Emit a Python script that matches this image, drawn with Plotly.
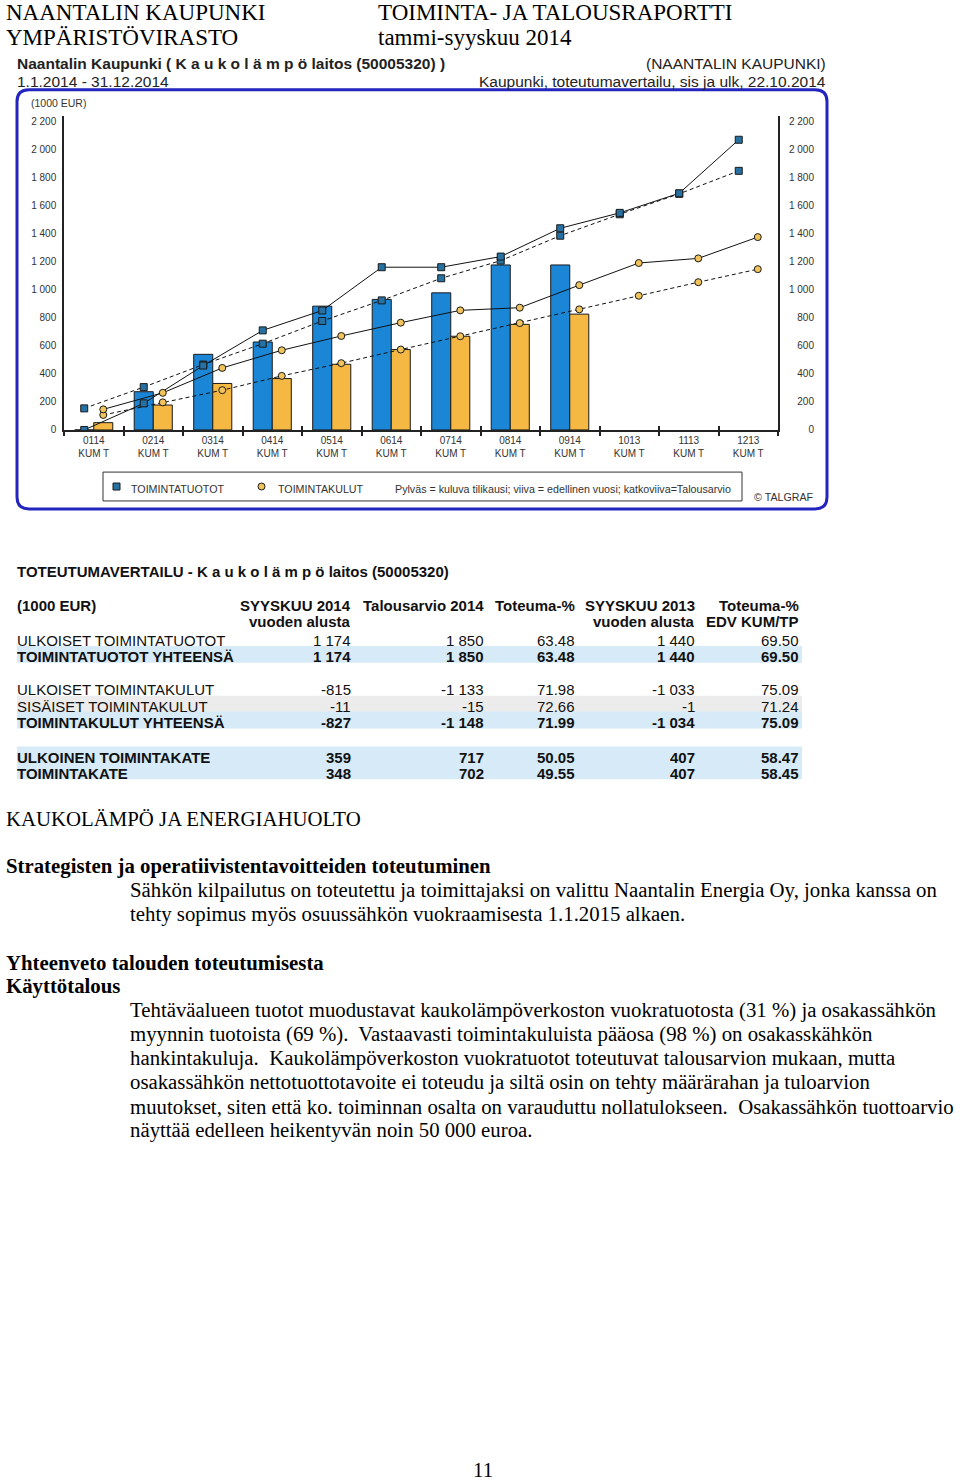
import plotly.graph_objects as go

W, H = 960, 1484
def px(x): return x / W
def py(y): return 1 - y / H

# ---------------- data ----------------
categories = ["0114", "0214", "0314", "0414", "0514", "0614",
              "0714", "0814", "0914", "1013", "1113", "1213"]
tick_labels = [c + "<br>KUM T" for c in categories]

# bars: current year (cumulative, 1000 EUR)
tuotot_2014 = [0, 273, 540, 628, 884, 932, 979, 1178, 1178]
kulut_2014 = [52, 178, 332, 367, 469, 574, 669, 754, 827]
# solid line: previous year
tuotot_2013 = [0, 190, 460, 711, 853, 1162, 1162, 1238, 1440, 1550, 1690, 2072]
kulut_2013 = [147, 265, 443, 569, 671, 766, 854, 873, 1034, 1192, 1225, 1377]
# dashed line: budget
tuotot_ta = [154, 306, 467, 616, 778, 925, 1083, 1209, 1387, 1540, 1686, 1850]
kulut_ta = [107, 197, 284, 386, 477, 574, 669, 763, 861, 958, 1055, 1148]

y_ticks = [0, 200, 400, 600, 800, 1000, 1200, 1400, 1600, 1800, 2000, 2200]

# table
row_labels = ["ULKOISET TOIMINTATUOTOT", "TOIMINTATUOTOT YHTEENSÄ",
              "ULKOISET TOIMINTAKULUT", "SISÄISET TOIMINTAKULUT",
              "TOIMINTAKULUT YHTEENSÄ", "ULKOINEN TOIMINTAKATE", "TOIMINTAKATE"]
syyskuu_2014 = [1174, 1174, -815, -11, -827, 359, 348]
talousarvio_2014 = [1850, 1850, -1133, -15, -1148, 717, 702]
toteuma_pct = [63.48, 63.48, 71.98, 72.66, 71.99, 50.05, 49.55]
syyskuu_2013 = [1440, 1440, -1033, -1, -1034, 407, 407]
toteuma_edv_pct = [69.50, 69.50, 75.09, 71.24, 75.09, 58.47, 58.45]
col_headers = [("SYYSKUU 2014", "vuoden alusta"), ("Talousarvio 2014", ""),
               ("Toteuma-%", ""), ("SYYSKUU 2013", "vuoden alusta"),
               ("Toteuma-%", "EDV KUM/TP")]

# ---------------- styles ----------------
BLUE_BAR = "rgb(28,134,214)"
ORANGE_BAR = "rgb(245,184,66)"
BLUE_MK = "rgb(38,112,162)"
ORANGE_MK = "rgb(240,196,90)"
EDGE = "#1a1a1a"
SANS = "Liberation Sans, Arial, sans-serif"
SERIF = "Liberation Serif, Times New Roman, serif"
CH = "#333333"
TFS = 15      # table font size
BFS = 20.8    # body font size

def fmt_int(v):
    return f"{v:,}".replace(",", " ")

fig = go.Figure()

fig.add_trace(go.Bar(x=categories[:len(tuotot_2014)], y=tuotot_2014, offsetgroup="t",
                     marker=dict(color=BLUE_BAR, line=dict(color=EDGE, width=1)),
                     name="TOIMINTATUOTOT", showlegend=False))
fig.add_trace(go.Bar(x=categories[:len(kulut_2014)], y=kulut_2014, offsetgroup="k",
                     marker=dict(color=ORANGE_BAR, line=dict(color=EDGE, width=1)),
                     name="TOIMINTAKULUT", showlegend=False))

def line_trace(y, group, dash, symbol, color):
    return go.Scatter(x=categories, y=y, mode="lines+markers", offsetgroup=group,
                      line=dict(color="#111111", width=1, dash=dash),
                      marker=dict(symbol=symbol, size=7, color=color,
                                  line=dict(color=EDGE, width=1)),
                      showlegend=False)

fig.add_trace(line_trace(tuotot_ta, "t", "4px,3px", "square", BLUE_MK))
fig.add_trace(line_trace(kulut_ta, "k", "4px,3px", "circle", ORANGE_MK))
fig.add_trace(line_trace(tuotot_2013, "t", "solid", "square", BLUE_MK))
fig.add_trace(line_trace(kulut_2013, "k", "solid", "circle", ORANGE_MK))

# helper (invisible) traces so the extra axes render
fig.add_trace(go.Scatter(x=categories, y=[None] * len(categories), xaxis="x2",
                         showlegend=False, hoverinfo="skip"))
fig.add_trace(go.Scatter(x=categories, y=[None] * len(categories), yaxis="y2",
                         showlegend=False, hoverinfo="skip"))

xdom = [px(64), px(778)]
ydom = [py(431.7), py(116.7)]
yticktext = [fmt_int(v) for v in y_ticks]

fig.update_layout(
    width=W, height=H, margin=dict(l=0, r=0, t=0, b=0),
    paper_bgcolor="white", plot_bgcolor="white",
    barmode="group", bargap=0.36, scattermode="group", scattergap=0.36,
    showlegend=False,
    xaxis=dict(domain=xdom, anchor="y", type="category",
               categoryorder="array", categoryarray=categories,
               range=[-0.5, len(categories) - 0.5],
               tickmode="array", tickvals=categories, ticktext=tick_labels,
               tickson="boundaries", ticks="outside", ticklen=4, tickwidth=1.5,
               tickcolor="#222", showline=True, linecolor="#222", linewidth=1.5,
               showgrid=False, zeroline=False,
               tickfont=dict(family=SANS, size=10, color=CH)),
    xaxis2=dict(domain=xdom, anchor="y", overlaying="x", type="category",
                categoryorder="array", categoryarray=categories,
                range=[-0.5, len(categories) - 0.5],
                tickmode="array", tickvals=categories, showticklabels=False,
                tickson="boundaries", ticks="inside", ticklen=4, tickwidth=1.5,
                tickcolor="#222", showline=False, showgrid=False, zeroline=False),
    yaxis=dict(domain=ydom, anchor="x", range=[0, 2240],
               tickmode="array", tickvals=y_ticks, ticktext=yticktext,
               ticks="", showline=True, mirror=True, linecolor="#222", linewidth=1.5,
               showgrid=False, zeroline=False, ticklabelstandoff=4,
               tickfont=dict(family=SANS, size=10, color=CH)),
    yaxis2=dict(domain=ydom, overlaying="y", anchor="free", position=px(814),
                side="left", range=[0, 2240],
                tickmode="array", tickvals=y_ticks, ticktext=yticktext,
                ticks="", showline=False, showgrid=False, zeroline=False,
                tickfont=dict(family=SANS, size=10, color=CH)),
)

shapes = []
annotations = []

def text(x, y, s, size, family=SANS, anchor="left", color="black", bold=False):
    if bold:
        s = "<b>" + s + "</b>"
    annotations.append(dict(x=px(x), y=py(y), xref="paper", yref="paper",
                            text=s, showarrow=False, xanchor=anchor, yanchor="middle",
                            font=dict(family=family, size=size, color=color)))

def rect(x0, y0, x1, y1, fill=None, line=None, lw=1, kind="rect"):
    shapes.append(dict(type=kind, xref="paper", yref="paper",
                       x0=px(x0), x1=px(x1), y0=py(y1), y1=py(y0),
                       fillcolor=fill if fill else "rgba(0,0,0,0)",
                       line=dict(color=line if line else "rgba(0,0,0,0)", width=lw),
                       layer="above"))

# page header
text(4, 13, "NAANTALIN KAUPUNKI", 23, SERIF)
text(4, 38, "YMPÄRISTÖVIRASTO", 23, SERIF)
text(376, 13, "TOIMINTA- JA TALOUSRAPORTTI", 23, SERIF)
text(376, 38, "tammi-syyskuu 2014", 23, SERIF)

# chart header
text(15, 64, "Naantalin Kaupunki ( K a u k o l ä m p ö laitos (50005320) )", 15.5, bold=True, color="#222")
text(15, 82, "1.1.2014 - 31.12.2014", 15.5, color="#222")
text(828, 64, "(NAANTALIN KAUPUNKI)", 15.5, anchor="right", color="#222")
text(828, 82, "Kaupunki, toteutumavertailu, sis ja ulk, 22.10.2014", 15.5, anchor="right", color="#222")

# rounded frame
def rpath(x0, y0, x1, y1, r):
    P = lambda x, y: f"{px(x)},{py(y)}"
    return (f"M {P(x0 + r, y0)} L {P(x1 - r, y0)} Q {P(x1, y0)} {P(x1, y0 + r)} "
            f"L {P(x1, y1 - r)} Q {P(x1, y1)} {P(x1 - r, y1)} "
            f"L {P(x0 + r, y1)} Q {P(x0, y1)} {P(x0, y1 - r)} "
            f"L {P(x0, y0 + r)} Q {P(x0, y0)} {P(x0 + r, y0)} Z")
shapes.append(dict(type="path", xref="paper", yref="paper",
                   path=rpath(17, 90, 827, 511, 12),
                   line=dict(color="rgb(36,36,190)", width=3), layer="above"))

text(29, 103, "(1000 EUR)", 10.5, color=CH)

# legend box
rect(103, 474, 742, 503, line="#333", lw=1)
rect(113, 485, 120, 492, fill=BLUE_MK, line=EDGE, lw=1)
rect(258, 485, 265, 492, fill=ORANGE_MK, line=EDGE, lw=1, kind="circle")
text(129, 490.5, "TOIMINTATUOTOT", 10.7, color=CH)
text(276, 490.5, "TOIMINTAKULUT", 10.7, color=CH)
text(393, 490.5, "Pylväs = kuluva tilikausi; viiva = edellinen vuosi; katkoviiva=Talousarvio", 10.7, color=CH)
text(752, 499.5, "© TALGRAF", 10.7, color=CH)

# table
DY = 2.5
text(15, 571 + DY, "TOTEUTUMAVERTAILU - K a u k o l ä m p ö laitos (50005320)", TFS, bold=True, color="#111")
text(15, 605 + DY, "(1000 EUR)", TFS, bold=True, color="#111")
col_right = [353, 486, 577, 697, 801]
for (h1, h2), xr in zip(col_headers, col_right):
    text(xr, 605 + DY, h1, TFS, anchor="right", bold=True, color="#111")
    if h2:
        text(xr, 622 + DY, h2, TFS, anchor="right", bold=True, color="#111")

row_y = [641, 657, 690, 707, 723, 758, 774]
row_bold = [False, True, False, False, True, True, True]
row_band = [None, "#D6EAF8", None, "#ECECEC", "#D6EAF8", "#D6EAF8", "#D6EAF8"]
columns = [[fmt_int(v) for v in syyskuu_2014],
           [fmt_int(v) for v in talousarvio_2014],
           [f"{v:.2f}" for v in toteuma_pct],
           [fmt_int(v) for v in syyskuu_2013],
           [f"{v:.2f}" for v in toteuma_edv_pct]]
for i, lab in enumerate(row_labels):
    y = row_y[i]
    if row_band[i]:
        shapes.append(dict(type="rect", xref="paper", yref="paper",
                           x0=px(17), x1=px(802), y0=py(y + 8.5), y1=py(y - 8.5),
                           fillcolor=row_band[i], line=dict(width=0), layer="below"))
    text(15, y + DY, lab, TFS, bold=row_bold[i], color="#111")
    for col, xr in zip(columns, col_right):
        text(xr, y + DY, col[i], TFS, anchor="right", bold=row_bold[i], color="#111")

# body text
NB = "\u00a0"
BY = 2.5
text(4, 819 + BY, "KAUKOLÄMPÖ JA ENERGIAHUOLTO", BFS, SERIF)
text(4, 867 + BY, "Strategisten ja operatiivistentavoitteiden toteutuminen", BFS, SERIF, bold=True)
para1 = ["Sähkön kilpailutus on toteutettu ja toimittajaksi on valittu Naantalin Energia Oy, jonka kanssa on",
         "tehty sopimus myös osuussähkön vuokraamisesta 1.1.2015 alkaen."]
for i, line in enumerate(para1):
    text(128, 891 + BY + 24 * i, line, BFS, SERIF)
text(4, 964 + BY, "Yhteenveto talouden toteutumisesta", BFS, SERIF, bold=True)
text(4, 988 + BY, "Käyttötalous", BFS, SERIF, bold=True)
para2 = ["Tehtäväalueen tuotot muodustavat kaukolämpöverkoston vuokratuotosta (31 %) ja osakassähkön",
         "myynnin tuotoista (69 %)." + NB + " Vastaavasti toimintakuluista pääosa (98 %) on osakasskähkön",
         "hankintakuluja." + NB + " Kaukolämpöverkoston vuokratuotot toteutuvat talousarvion mukaan, mutta",
         "osakassähkön nettotuottotavoite ei toteudu ja siltä osin on tehty määrärahan ja tuloarvion",
         "muutokset, siten että ko. toiminnan osalta on varauduttu nollatulokseen." + NB + " Osakassähkön tuottoarvio",
         "näyttää edelleen heikentyvän noin 50 000 euroa."]
for i, line in enumerate(para2):
    text(128, 1012 + BY + 24 * i, line, BFS, SERIF)

text(483, 1475, "11", BFS, SERIF, anchor="center")

fig.update_layout(shapes=shapes, annotations=annotations)
fig.write_html("out.html")
